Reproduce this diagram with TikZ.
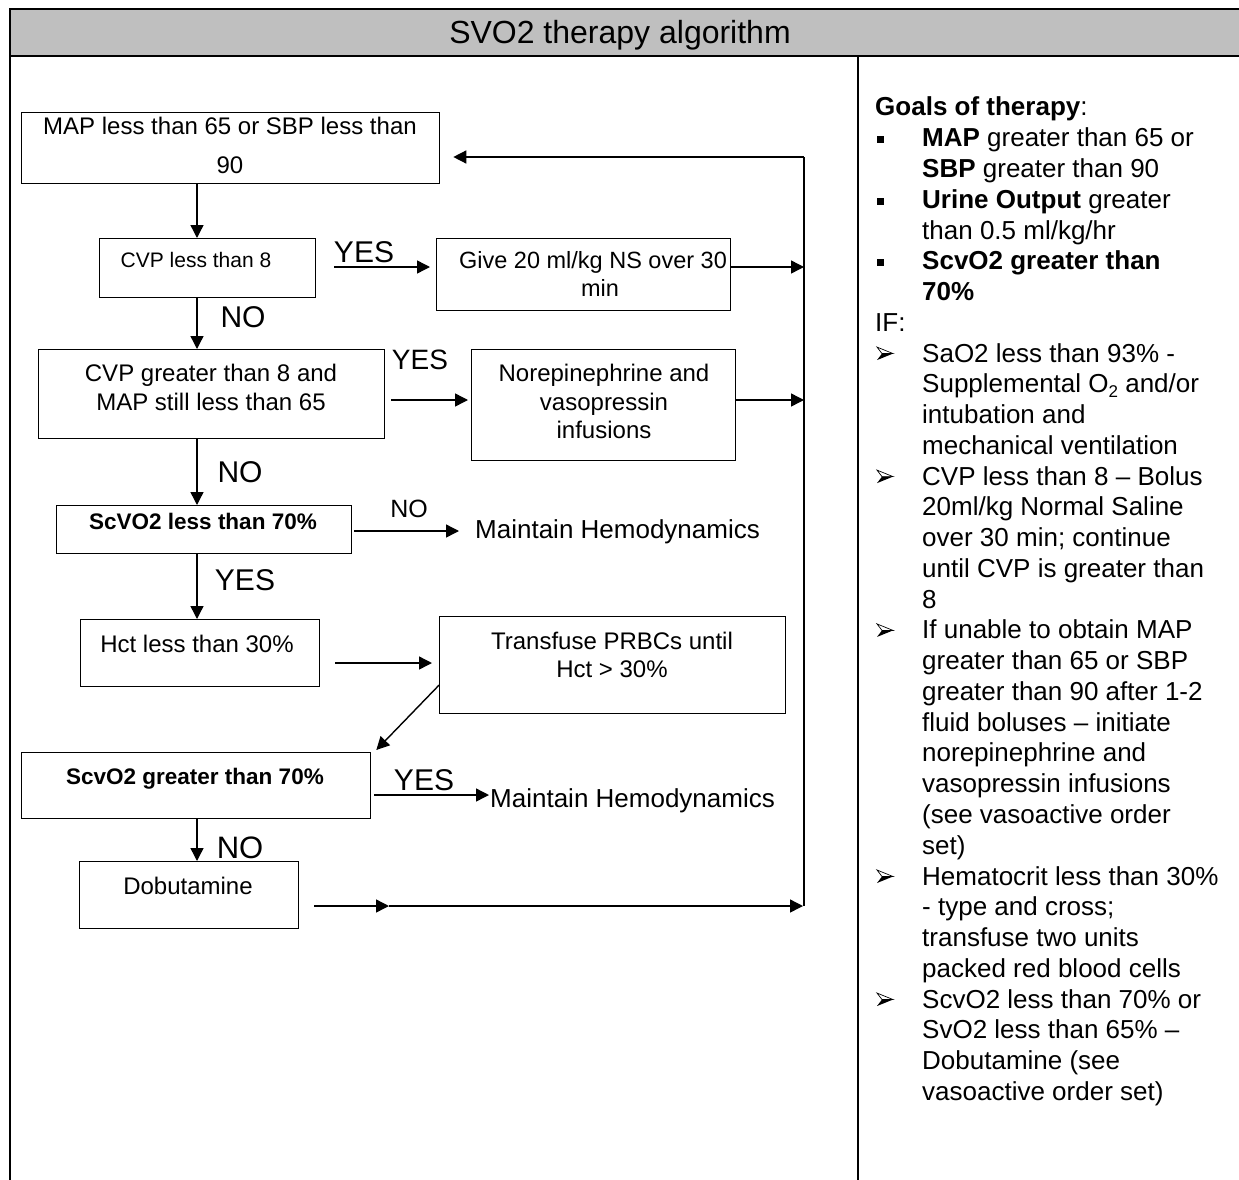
\documentclass[tikz,border=0pt]{standalone}
\usepackage{fontspec}
\setmainfont{Liberation Sans}
\usetikzlibrary{arrows.meta,calc}
\newcommand\RY[1]{116+30.76*#1}
\begin{document}
\begin{tikzpicture}[x=1pt,y=-1pt,
  fbox/.style={draw, line width=1.3pt, inner sep=0pt, anchor=north west},
  ft/.style={font=\fontsize{24}{28}\selectfont, inner sep=0pt, anchor=base},
  fts/.style={font=\fontsize{21}{25}\selectfont, inner sep=0pt, anchor=base},
  fb/.style={font=\fontsize{22.5}{26}\selectfont\bfseries, inner sep=0pt, anchor=base},
  mt/.style={font=\fontsize{26}{30}\selectfont, inner sep=0pt, anchor=base west},
  lbl/.style={font=\fontsize{30}{34}\selectfont, inner sep=0pt, anchor=base},
  rt/.style={font=\fontsize{26}{30}\selectfont, inner sep=0pt, anchor=base west},
  arr/.style={line width=1.4pt, -{Triangle[length=13pt,width=13pt]}},
  ln/.style={line width=1.6pt},
  sqb/.pic={\fill (-3.5,-3.5) rectangle (3.5,3.5);},
  arb/.pic={\draw[line width=0.7pt, line join=miter] (-8,-6.5) -- (8,0) -- (-3,0) -- cycle;
            \fill (-3,0) -- (8,0) -- (-8,6.5) -- cycle;}
]
\useasboundingbox (0,0) rectangle (1239,1180);
\clip (0,0) rectangle (1239,1180);
% frame
\fill[black!25] (10,9) rectangle (1250,56);
\draw[line width=2pt] (1250,9) -- (10,9) -- (10,1190);
\draw[line width=2pt] (10,56) -- (1250,56);
\draw[line width=1.7pt] (858,56) -- (858,1190);
\node[font=\fontsize{32}{36}\selectfont, anchor=base, inner sep=0pt] (title) at (620,44) {SVO2 therapy algorithm};

% boxes
\node[fbox, minimum width=418pt, minimum height=71pt] (map) at (21,112) {};
\node[fbox, minimum width=216pt, minimum height=59pt] (cvp) at (99,238) {};
\node[fbox, minimum width=294pt, minimum height=72pt] (give) at (436,238) {};
\node[fbox, minimum width=346pt, minimum height=89pt] (cvpg) at (38,349) {};
\node[fbox, minimum width=264pt, minimum height=111pt] (nor) at (471,349) {};
\node[fbox, minimum width=295pt, minimum height=48pt] (scvl) at (56,505) {};
\node[fbox, minimum width=239pt, minimum height=67pt] (hct) at (80,619) {};
\node[fbox, minimum width=346pt, minimum height=97pt] (trans) at (439,616) {};
\node[fbox, minimum width=349pt, minimum height=66pt] (scvg) at (21,752) {};
\node[fbox, minimum width=219pt, minimum height=67pt] (dob) at (79,861) {};

% box texts
\node[ft] (mapa) at (230,135) {MAP less than 65 or SBP less than};
\node[ft] (mapb) at (230,173) {90};
\node[fts] (cvpa) at (196,267) {CVP less than 8};
\node[ft, font=\fontsize{23.5}{28}\selectfont] (givea) at (593,268) {Give 20 ml/kg NS over 30};
\node[ft, font=\fontsize{23.5}{28}\selectfont] (giveb) at (600,296) {min};
\node[ft] (cvpga) at (211,381) {CVP greater than 8 and};
\node[ft] (cvpgb) at (211,410) {MAP still less than 65};
\node[ft] (nora) at (604,381) {Norepinephrine and};
\node[ft] (norb) at (604,410) {vasopressin};
\node[ft] (norc) at (604,438) {infusions};
\node[fb] (scvlt) at (203,529) {ScVO2 less than 70\%};
\node[ft] (hctt) at (197,652) {Hct less than 30\%};
\node[ft] (transa) at (612,649) {Transfuse PRBCs until};
\node[ft] (transb) at (612,677) {Hct > 30\%};
\node[fb] (scvgt) at (195,784) {ScvO2 greater than 70\%};
\node[ft] (dobt) at (188,894) {Dobutamine};
\node[mt] (mh1) at (475,538) {Maintain Hemodynamics};
\node[mt] (mh2) at (490,807) {Maintain Hemodynamics};

% labels
\node[lbl] (yes1) at (364,262) {YES};
\node[lbl] (no1) at (243,327) {NO};
\node[lbl, font=\fontsize{28}{32}\selectfont] (yes2) at (420,369) {YES};
\node[lbl] (no2) at (240,482) {NO};
\node[lbl, font=\fontsize{25}{29}\selectfont] (no3) at (409,517) {NO};
\node[lbl] (yes3) at (245,590) {YES};
\node[lbl] (yes4) at (424,790) {YES};
\node[lbl, font=\fontsize{31}{35}\selectfont] (no4) at (240,858) {NO};

% connector helpers
\coordinate (vx) at (197,0);
\coordinate (rtop) at (804,157);
\coordinate (rbot) at (804,906);
\coordinate (ygive) at (0,267);
\coordinate (ynor) at (0,400);
\coordinate (ymh1) at (0,531);
\coordinate (yhct) at (0,663);
\coordinate (ymh2) at (0,795);
\coordinate (ydob) at (0,906);
\coordinate (mid) at (389,906);

% vertical flow
\draw[arr] (map.south -| vx) -- (cvp.north -| vx);
\draw[arr] (cvp.south -| vx) -- (cvpg.north -| vx);
\draw[arr] (cvpg.south -| vx) -- (scvl.north -| vx);
\draw[arr] (scvl.south -| vx) -- (hct.north -| vx);
\draw[arr] (scvg.south -| vx) -- (dob.north -| vx);

% horizontal flow
\draw[arr, shorten <=18pt, shorten >=6pt] (ygive -| cvp.east) -- (ygive -| give.west);
\draw[arr] (ygive -| give.east) -- (ygive -| rtop);
\draw[arr, shorten <=6pt, shorten >=3pt] (ynor -| cvpg.east) -- (ynor -| nor.west);
\draw[arr] (ynor -| nor.east) -- (ynor -| rtop);
\draw[arr, shorten <=2pt, shorten >=16pt] (ymh1 -| scvl.east) -- (ymh1 -| mh1.west);
\draw[arr, shorten <=15pt, shorten >=7pt] (yhct -| hct.east) -- (yhct -| trans.west);
\draw[arr] ($(trans.west)+(0,20)$) -- ($(scvg.north east)+(5,-2)$);
\draw[arr, shorten <=3pt, shorten >=1pt] (ymh2 -| scvg.east) -- (ymh2 -| mh2.west);
\draw[arr, shorten <=15pt] (ydob -| dob.east) -- (mid);
\draw[arr, shorten >=1pt] (mid) -- (rbot);
\draw[ln] (rbot) -- (rtop);
\draw[arr, shorten >=13pt] (rtop) -- (rtop -| map.east);

% right column
\node[rt, font=\fontsize{26}{30}\selectfont\bfseries] (r0) at (875,{\RY{0}}) {Goals of therapy\mdseries:};
\pic at (880.5,{\RY{1}-7}) {sqb};
\node[rt] (r1) at (922,{\RY{1}}) {\textbf{MAP} greater than 65 or};
\node[rt] (r2) at (922,{\RY{2}}) {\textbf{SBP} greater than 90};
\pic at (880.5,{\RY{3}-7}) {sqb};
\node[rt] (r3) at (922,{\RY{3}}) {\textbf{Urine Output} greater};
\node[rt] (r4) at (922,{\RY{4}}) {than 0.5 ml/kg/hr};
\pic at (880.5,{\RY{5}-7}) {sqb};
\node[rt] (r5) at (922,{\RY{5}}) {\textbf{ScvO2 greater than}};
\node[rt] (r6) at (922,{\RY{6}}) {\textbf{70\%}};
\node[rt] (r7) at (875,{\RY{7}}) {IF:};
\pic at (885,{\RY{8}-8.5}) {arb};
\node[rt] (r8) at (922,{\RY{8}}) {SaO2 less than 93\% -};
\node[rt] (r9) at (922,{\RY{9}}) {Supplemental O\raisebox{-5pt}{\fontsize{17}{17}\selectfont 2} and/or};
\node[rt] (r10) at (922,{\RY{10}}) {intubation and};
\node[rt] (r11) at (922,{\RY{11}}) {mechanical ventilation};
\pic at (885,{\RY{12}-8.5}) {arb};
\node[rt] (r12) at (922,{\RY{12}}) {CVP less than 8 – Bolus};
\node[rt] (r13) at (922,{\RY{13}}) {20ml/kg Normal Saline};
\node[rt] (r14) at (922,{\RY{14}}) {over 30 min; continue};
\node[rt] (r15) at (922,{\RY{15}}) {until CVP is greater than};
\node[rt] (r16) at (922,{\RY{16}}) {8};
\pic at (885,{\RY{17}-8.5}) {arb};
\node[rt] (r17) at (922,{\RY{17}}) {If unable to obtain MAP};
\node[rt] (r18) at (922,{\RY{18}}) {greater than 65 or SBP};
\node[rt] (r19) at (922,{\RY{19}}) {greater than 90 after 1-2};
\node[rt] (r20) at (922,{\RY{20}}) {fluid boluses – initiate};
\node[rt] (r21) at (922,{\RY{21}}) {norepinephrine and};
\node[rt] (r22) at (922,{\RY{22}}) {vasopressin infusions};
\node[rt] (r23) at (922,{\RY{23}}) {(see vasoactive order};
\node[rt] (r24) at (922,{\RY{24}}) {set)};
\pic at (885,{\RY{25}-8.5}) {arb};
\node[rt] (r25) at (922,{\RY{25}}) {Hematocrit less than 30\%};
\node[rt] (r26) at (922,{\RY{26}}) {- type and cross;};
\node[rt] (r27) at (922,{\RY{27}}) {transfuse two units};
\node[rt] (r28) at (922,{\RY{28}}) {packed red blood cells};
\pic at (885,{\RY{29}-8.5}) {arb};
\node[rt] (r29) at (922,{\RY{29}}) {ScvO2 less than 70\% or};
\node[rt] (r30) at (922,{\RY{30}}) {SvO2 less than 65\% –};
\node[rt] (r31) at (922,{\RY{31}}) {Dobutamine (see};
\node[rt] (r32) at (922,{\RY{32}}) {vasoactive order set)};
\end{tikzpicture}
\end{document}
